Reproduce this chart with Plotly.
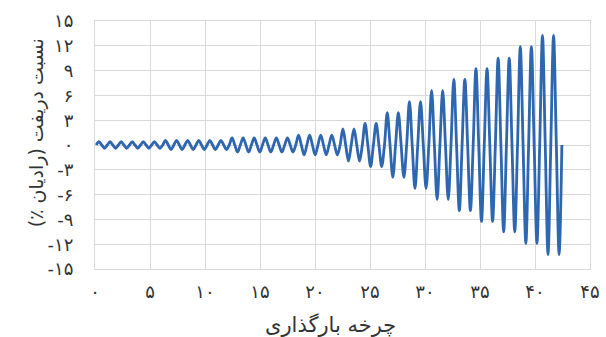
import plotly.graph_objects as go

# Loading protocol: peak drift ratio (radian %) for each loading cycle
cycle_amplitudes = (
    [0.4] * 6 + [0.55] * 6 + [0.85] * 6 + [1.2] * 4 +
    [1.95] * 2 + [2.6] * 2 + [3.9] * 2 + [5.25] * 2 + [6.6] * 2 +
    [7.95] * 2 + [9.25] * 2 + [10.5] * 2 + [11.9] * 2 + [13.25] * 2
)
cycle_period = 1.008
cycle_start = 0.108

x_tick_vals = [0, 5, 10, 15, 20, 25, 30, 35, 40, 45]
x_tick_text = ["۰", "۵", "۱۰", "۱۵", "۲۰", "۲۵", "۳۰", "۳۵", "۴۰", "۴۵"]
y_tick_vals = [15, 12, 9, 6, 3, 0, -3, -6, -9, -12, -15]
y_tick_text = ["۱۵", "۱۲", "۹", "۶", "۳", "۰", "-۳", "-۶", "-۹", "-۱۲", "-۱۵"]
x_title = "چرخه بارگذاری"
y_title = "نسبت دریفت (رادیان ٪)"

# Each cycle: zero, positive peak, zero, negative peak (smoothed by spline)
xs, ys = [], []
for k, amp in enumerate(cycle_amplitudes):
    base = cycle_start + k * cycle_period
    for j, v in enumerate([0.0, amp, 0.0, -amp]):
        xs.append(base + j * cycle_period / 4)
        ys.append(v)
xs.append(cycle_start + len(cycle_amplitudes) * cycle_period)
ys.append(0.0)

font_family = "DejaVu Sans"
text_color = "#333333"
grid_color = "#d9d9d9"

fig = go.Figure(
    go.Scatter(
        x=xs, y=ys, mode="lines",
        line=dict(color="#2e66b0", width=2.8, shape="spline", smoothing=1.0),
        hoverinfo="skip",
    )
)

fig.update_layout(
    width=606, height=337,
    margin=dict(l=95, r=16, t=21, b=68, autoexpand=False),
    paper_bgcolor="white", plot_bgcolor="white",
    showlegend=False,
    font=dict(family=font_family, color=text_color),
    annotations=[
        dict(text=x_title, xref="paper", yref="paper", x=0.475, y=-0.225,
             xanchor="center", yanchor="middle", showarrow=False,
             font=dict(size=21, family=font_family, color=text_color)),
        dict(text=y_title, xref="paper", yref="paper", x=-0.118, y=0.55,
             xanchor="center", yanchor="middle", showarrow=False, textangle=-90,
             font=dict(size=19, family=font_family, color=text_color)),
    ],
)

fig.update_xaxes(
    range=[0, 45], automargin=False,
    tickvals=x_tick_vals, ticktext=x_tick_text,
    tickfont=dict(size=18, family=font_family, color=text_color),
    showgrid=True, gridcolor=grid_color, gridwidth=1,
    zeroline=False,
    showline=True, linecolor=grid_color, linewidth=1, mirror=True,
    ticks="", ticklabelstandoff=6,
)

fig.update_yaxes(
    range=[-15, 15], automargin=False,
    tickvals=y_tick_vals, ticktext=y_tick_text,
    tickfont=dict(size=18, family=font_family, color=text_color),
    showgrid=True, gridcolor=grid_color, gridwidth=1,
    zeroline=True, zerolinecolor=grid_color, zerolinewidth=1,
    showline=True, linecolor=grid_color, linewidth=1, mirror=True,
    ticks="", ticklabelstandoff=17,
)

fig.write_html("out.html")
